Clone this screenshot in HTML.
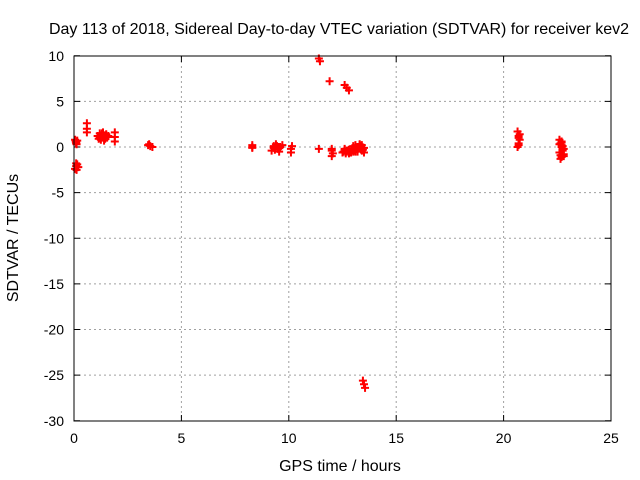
<!DOCTYPE html>
<html><head><meta charset="utf-8"><style>
body{margin:0;background:#fff}
svg{display:block;font-family:"Liberation Sans",sans-serif;font-size:14px}
.t{font-size:16px}
</style></head><body>
<svg id="c" width="640" height="480">
<text class="t" x="339" y="34" text-anchor="middle">Day 113 of 2018, Sidereal Day-to-day VTEC variation (SDTVAR) for receiver kev2</text>
<text class="t" x="340" y="471" text-anchor="middle">GPS time / hours</text>
<text class="t" transform="translate(18,238) rotate(-90)" text-anchor="middle">SDTVAR / TECUs</text>
<g id="grid"></g><g id="ticks"></g><g id="pts"></g>
<rect x="74" y="56" width="537" height="365" fill="none" stroke="#000" stroke-width="1"/>
</svg>
<script>
const xTicks=[0,5,10,15,20,25];
const yTicks=[10,5,0,-5,-10,-15,-20,-25,-30];
const hours=[0.05,0.1,0.12,0.08,0.15,0.05,0.1,0.15,0.2,0.12,0.6,0.6,0.6,1.1,1.2,1.3,1.4,1.5,1.6,1.25,1.35,1.45,1.15,1.55,1.3,1.9,1.9,1.9,3.45,3.55,3.65,3.5,8.3,8.3,8.3,9.2,9.3,9.4,9.5,9.6,9.7,9.35,9.45,9.55,10.1,10.15,10.1,11.4,11.45,11.4,11.9,12.0,12.0,12.05,12.0,12.6,12.7,12.8,12.5,12.6,12.7,12.8,12.9,13.0,13.1,13.2,13.3,13.4,13.5,12.7,12.9,13.1,13.3,13.2,13.4,13.0,13.5,13.45,13.5,13.55,20.65,20.7,20.75,20.7,20.65,20.75,22.6,22.65,22.7,22.75,22.8,22.65,22.7,22.75,22.6,22.7,22.8,22.7,
12.55,12.65,12.75,12.85,12.95,13.05,13.15,13.25,13.35,13.45,12.6,12.8,13.0,13.2,13.4,13.1,13.3,1.2,1.3,1.4,1.5,9.3,9.5,22.6,22.7,22.8,22.65,22.75,22.7,20.7,20.7,0.1,0.1];
const sdtvar=[0.8,0.5,0.3,0.6,0.7,-2.4,-2.1,-1.9,-2.2,-2.5,2.6,2.0,1.6,1.2,1.5,1.3,1.0,1.4,1.2,0.8,1.6,0.9,0.9,1.1,1.1,1.6,1.1,0.6,0.2,0.1,0.0,0.3,0.2,-0.1,0.0,-0.4,0.1,0.3,-0.2,0.0,0.2,-0.3,0.1,-0.5,-0.2,0.1,-0.6,9.7,9.4,-0.2,7.2,-0.4,-1.0,-0.7,-0.2,6.8,6.5,6.2,-0.6,-0.3,-0.5,-0.7,-0.4,-0.2,-0.5,0.0,0.3,-0.3,-0.1,-0.4,-0.6,-0.2,0.2,-0.5,-0.4,0.1,-0.6,-25.6,-26.0,-26.4,1.7,1.2,0.8,0.4,0.0,1.4,0.8,0.4,0.0,-0.4,-0.8,-1.3,0.6,-0.2,-0.6,0.2,-1.0,-0.9,
-0.5,-0.7,-0.4,-0.6,-0.3,-0.4,-0.2,-0.1,0.1,-0.3,-0.2,-0.3,-0.5,-0.4,0.2,0.2,0.0,1.0,1.5,0.7,1.3,-0.1,0.0,0.3,0.5,-0.2,-0.9,0.1,-1.1,1.0,0.2,0.4,-1.8];
const X=v=>74+v*537/25, Y=v=>147-v*365/40;
const ns="http://www.w3.org/2000/svg";
function mk(t,a,p){const e=document.createElementNS(ns,t);for(const k in a)e.setAttribute(k,a[k]);p.appendChild(e);return e;}
const g=document.getElementById('grid'),tk=document.getElementById('ticks'),pts=document.getElementById('pts');
xTicks.forEach(v=>{const x=X(v);
 if(v>0&&v<25){const l=mk('line',{x1:x,x2:x,y1:56,y2:421,stroke:'#a0a0a0','stroke-dasharray':'2,3'},g);
 }
 mk('line',{x1:x,x2:x,y1:421,y2:415,stroke:'#000'},tk);mk('line',{x1:x,x2:x,y1:56,y2:62,stroke:'#000'},tk);
 const t=mk('text',{x:x,y:443,'text-anchor':'middle'},tk);t.textContent=v;
 });
yTicks.forEach(v=>{const y=Y(v);
 if(v<10&&v>-30){const l=mk('line',{x1:74,x2:611,y1:y,y2:y,stroke:'#a0a0a0','stroke-dasharray':'2,3'},g);
 }
 mk('line',{x1:74,x2:80,y1:y,y2:y,stroke:'#000'},tk);mk('line',{x1:611,x2:605,y1:y,y2:y,stroke:'#000'},tk);
 const t=mk('text',{x:64,y:y+5,'text-anchor':'end'},tk);t.textContent=v;
 });
mk('line',{x1:74,x2:74,y1:56,y2:421,stroke:'#000'},tk);
hours.forEach((h,i)=>{const x=X(h),y=Y(sdtvar[i]);
 const p=mk('path',{d:`M${x-4},${y}H${x+4}M${x},${y-4}V${y+4}`,stroke:'#f00','stroke-width':2},pts);
 });
</script>
</body></html>
